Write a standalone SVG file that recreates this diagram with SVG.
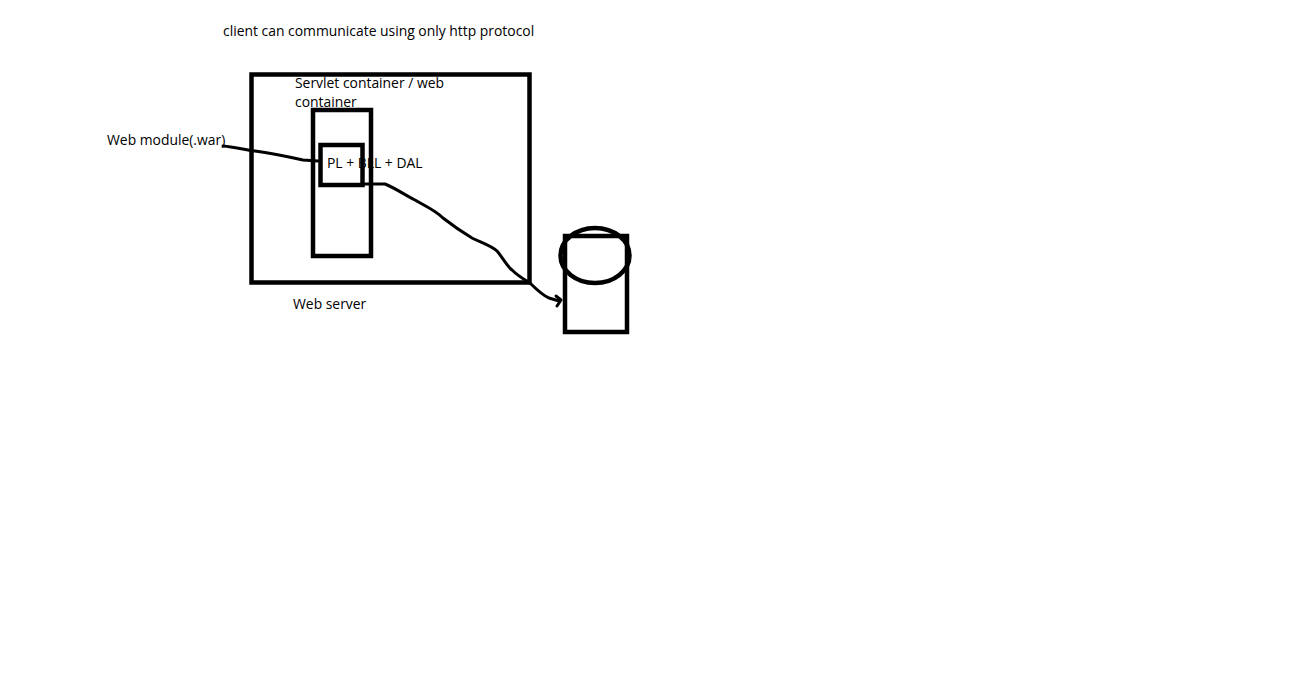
<svg xmlns="http://www.w3.org/2000/svg" width="1303" height="693" viewBox="0 0 1303 693">
<style>
.t{font-family:"Open Sans","Noto Sans",sans-serif;font-size:13.9px;fill:#000}
.box{fill:none;stroke:#000;stroke-width:4.5}
.line{fill:none;stroke:#000;stroke-width:3;stroke-linecap:round;stroke-linejoin:round}
</style>
<rect width="1303" height="693" fill="#fff"/>
<text class="t" x="223" y="36">client can communicate using only http protocol</text>
<g id="web-server">
<rect class="box" x="251.5" y="74.5" width="278" height="208"/>
<text class="t" x="293" y="309">Web server</text>
</g>
<g id="servlet-container">
<text class="t" x="295" y="88">Servlet container / web</text>
<text class="t" x="295" y="107">container</text>
<rect class="box" x="313" y="110" width="58" height="146"/>
</g>
<g id="layers">
<text class="t" x="327" y="168">PL + BLL + DAL</text>
<rect class="box" x="320.5" y="145" width="42" height="40"/>
</g>
<g id="web-module">
<text class="t" x="107" y="145">Web module(.war)</text>
</g>
<g id="database">
<rect class="box" x="565" y="236" width="62" height="96"/>
<ellipse class="box" cx="595" cy="255.5" rx="34.5" ry="27.5"/>
</g>
<g id="connectors">
<path class="line" d="M223,146 C235,147 245,150 255,151 C270,153 285,156 303,160 L318,161"/>
<path class="line" d="M362,184 L385,184 C395,188 405,195 415,200 C425,206 435,210 443,218 C452,225 462,232 472,238 C480,242 492,246 497,251 C503,258 506,265 512,270 C518,276 525,280 530,283 C537,290 542,295 549,298 L559,301"/>
<path class="line" d="M556,296 L561,300 L557,306"/>
</g>
</svg>
